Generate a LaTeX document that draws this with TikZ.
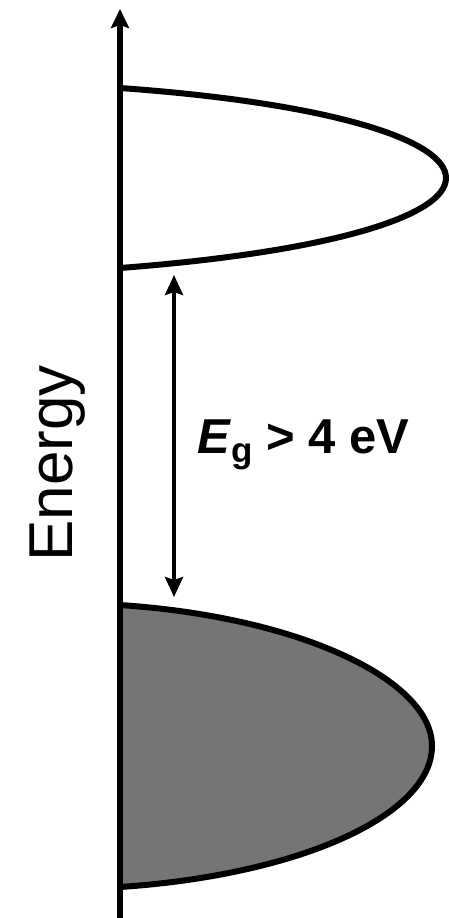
\documentclass[tikz,border=0pt]{standalone}
\usepackage{fontspec}
\setmainfont{Liberation Sans}
\usetikzlibrary{arrows.meta}
\definecolor{bandgray}{RGB}{117,117,117}
\tikzset{
  axisline/.style={line width=6.5pt, -{Stealth[length=19pt,width=18pt,inset=3pt]}},
  bandline/.style={line width=6pt, line join=round},
  gaparrow/.style={line width=4pt, {Stealth[length=20pt,width=18pt,inset=3pt]}-{Stealth[length=20pt,width=18pt,inset=3pt]}},
}
\begin{document}
\begin{tikzpicture}[x=1pt,y=-1pt]
\useasboundingbox (0,0) rectangle (449,918);
% lower (filled) band
\coordinate (lt) at (120,605);
\coordinate (la) at (432,746);
\coordinate (lb) at (120,887);
\fill[bandgray] (lt) .. controls (300,617) and (432,680) .. (la) .. controls (432,815) and (300,875) .. (lb) -- cycle;
\draw[bandline] (lt) .. controls (300,617) and (432,680) .. (la) .. controls (432,815) and (300,875) .. (lb);
% upper (empty) band
\coordinate (ut) at (120,88);
\coordinate (ua) at (446,178);
\coordinate (ub) at (120,268);
\draw[bandline] (ut) .. controls (330,103) and (446,140) .. (ua) .. controls (446,216) and (330,252) .. (ub);
% axis
\coordinate (a0) at (120,918);
\coordinate (a1) at (120,9);
\draw[axisline] (a0) -- (a1);
% gap arrow
\coordinate (g0) at (174,275);
\coordinate (g1) at (174,597);
\draw[gaparrow] (g0) -- (g1);
% labels
\node[anchor=base west, inner sep=0, font=\fontsize{49}{56}\selectfont\bfseries] (eg) at (197,453) {\textit{E}\raisebox{-9pt}{\fontsize{35}{40}\selectfont g} > 4 eV};
\node[anchor=base west, inner sep=0, rotate=90, font=\fontsize{62}{70}\selectfont] (en) at (72,562) {Energy};
\end{tikzpicture}
\end{document}
